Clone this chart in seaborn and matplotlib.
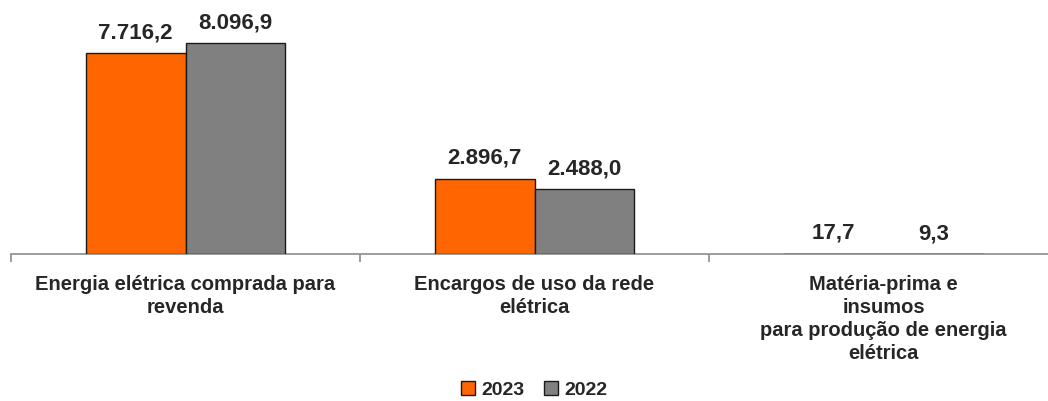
import matplotlib
matplotlib.use("Agg")
import matplotlib.pyplot as plt
import seaborn as sns
import pandas as pd
from matplotlib.ticker import FixedLocator

categories = ["Energia elétrica comprada para\nrevenda",
              "Encargos de uso da rede\nelétrica",
              "Matéria-prima e\ninsumos\npara produção de energia\nelétrica"]
series_names = ["2023", "2022"]
values_2023 = [7716.2, 2896.7, 17.7]
values_2022 = [8096.9, 2488.0, 9.3]

df = pd.DataFrame({
    "cat": categories * 2,
    "ano": ["2023"] * 3 + ["2022"] * 3,
    "valor": values_2023 + values_2022,
})

def br(v):
    s = f"{v:,.1f}"
    return s.replace(",", "X").replace(".", ",").replace("X", ".")

sns.set_style("white")
plt.rcParams['font.family'] = ['Liberation Sans', 'DejaVu Sans']

fig = plt.figure(figsize=(10.48, 4.01), dpi=100)
ax = fig.add_axes([11/1048, 1 - 254/401, 1047/1048, 254/401 - 0.0])

sns.barplot(data=df, x="cat", y="valor", hue="ano", hue_order=series_names,
            palette={"2023": "#FF6600", "2022": "#808080"}, width=0.573,
            edgecolor="#1a1a1a", linewidth=1.0, ax=ax, legend=True, saturation=1)

ax.set_ylim(0, 9750)
ax.set_xlim(-0.5, 2.5)
ax.set_yticks([])
ax.set_xlabel("")
ax.set_ylabel("")
for s in ["top", "right", "left"]:
    ax.spines[s].set_visible(False)
ax.spines["bottom"].set_color("#8c8c8c")
ax.spines["bottom"].set_linewidth(1.2)
ax.spines["bottom"].set_zorder(0.5)

ax.tick_params(axis="x", which="major", length=0, pad=15, labelsize=14.5)
for lbl in ax.get_xticklabels():
    lbl.set_fontweight("bold")
    lbl.set_linespacing(1.28)
ax.xaxis.set_minor_locator(FixedLocator([-0.5, 0.5, 1.5, 2.5]))
ax.tick_params(axis="x", which="minor", bottom=True, length=6, color="#8c8c8c",
               width=1.2, direction="out")

for container, vals in zip(ax.containers, [values_2023, values_2022]):
    ax.bar_label(container, labels=[br(v) for v in vals], padding=7,
                 fontsize=16, fontweight="bold")

leg = ax.legend(loc="center", ncol=2, frameon=False,
                prop={"weight": "bold", "size": 14},
                handlelength=0.75, handleheight=0.75, handletextpad=0.3,
                columnspacing=1.0)
leg.set_bbox_to_anchor((534/1048, 1 - 390/401), transform=fig.transFigure)
for h in leg.legend_handles:
    h.set_edgecolor("#1a1a1a")
    h.set_linewidth(1.0)

fig.savefig("out.png", dpi=100)
